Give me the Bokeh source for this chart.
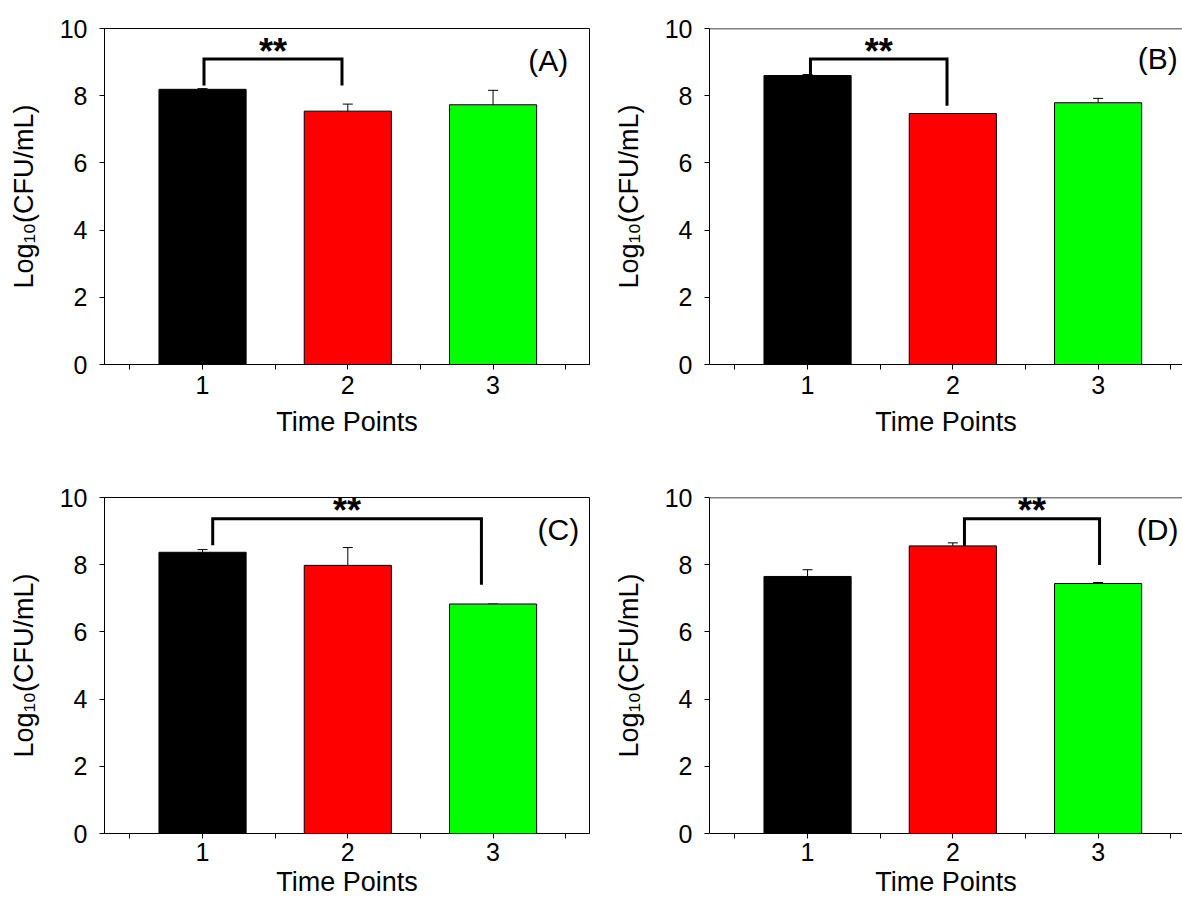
from bokeh.plotting import figure
from bokeh.layouts import column, row
from bokeh.models import (ColumnDataSource, FixedTicker, Range1d, Whisker, TeeHead,
                          Span, Label)
from bokeh.core.properties import value
from bokeh.embed import file_html
from bokeh.resources import INLINE

# ---------------- data ----------------
time_points = [1, 2, 3]
x_tick_labels = ["1", "2", "3"]
y_ticks = [0, 2, 4, 6, 8, 10]
bar_colors = ["#000000", "#FF0000", "#00FF00"]
panel_tags = ["(A)", "(B)", "(C)", "(D)"]
y_label = "Log\u2081\u2080(CFU/mL)"
x_label = "Time Points"

mean_A = [8.19, 7.54, 7.73]
err_A = [0.02, 0.21, 0.43]
mean_B = [8.60, 7.47, 7.79]
err_B = [0.03, 0.00, 0.13]
mean_C = [8.37, 7.98, 6.83]
err_C = [0.08, 0.53, 0.00]
mean_D = [7.65, 8.56, 7.44]
err_D = [0.20, 0.09, 0.03]

# significance brackets: x_left, x_right, y_top, y_left_end, y_right_end
sig_A = [1.01, 1.96, 9.09, 8.30, 8.30]
sig_B = [1.02, 1.96, 9.09, 8.62, 7.70]
sig_C = [1.07, 2.92, 9.37, 8.58, 7.40]
sig_D = [2.08, 3.01, 9.37, 8.56, 7.99]
sig_text = "**"

FONT = "Liberation Sans"


def make_panel(means, errs, tag, sig, right, bottom, tag_pos):
    width = 573 if right else 609
    height = 422 if bottom else 477
    x_end = 3.581 if right else 3.664
    p = figure(width=width, height=height,
               x_range=Range1d(0.325, x_end), y_range=Range1d(0, 10),
               output_backend="svg", toolbar_location=None, tools="",
               min_border_left=100 if right else 104,
               min_border_right=0 if right else 20,
               min_border_top=20 if bottom else 28,
               min_border_bottom=10 if bottom else 113,
               background_fill_color="white", border_fill_color="white")
    p.xgrid.visible = False
    p.ygrid.visible = False
    if right:
        p.outline_line_color = None
        p.add_layout(Span(location=10, dimension="width", line_color="black", line_width=1.5))
    else:
        p.outline_line_color = "black"
        p.outline_line_width = 1

    src = ColumnDataSource(dict(
        x=time_points,
        top=means,
        upper=[m + e for m, e in zip(means, errs)],
        color=bar_colors,
    ))
    p.vbar(x="x", top="top", bottom=0, width=0.6, source=src,
           fill_color="color", line_color="black", line_width=1)
    p.add_layout(Whisker(base="x", lower="top", upper="upper", source=src,
                         dimension="height", line_color="black", line_width=1,
                         upper_head=TeeHead(size=10, line_color="black", line_width=1),
                         lower_head=None))

    xl, xr, yt, yl, yr = sig
    p.line(x=[xl, xl, xr, xr], y=[yl, yt, yt, yr], line_color="black",
           line_width=3, line_join="miter", line_cap="butt")
    p.add_layout(Label(x=(xl + xr) / 2, y=yt, text=sig_text, text_align="center",
                       text_baseline="alphabetic", y_offset=8,
                       text_font=FONT, text_font_size="36px", text_font_style="bold",
                       text_color="black"))

    p.text(x=[tag_pos[0]], y=[tag_pos[1]], text=[tag], text_font=value(FONT),
           text_font_size="30px", text_align="center", text_baseline="middle",
           text_color="black")

    # axes
    xa = p.xaxis[0]
    xa.ticker = FixedTicker(ticks=time_points, minor_ticks=[0.5, 1.5, 2.5, 3.5])
    xa.major_label_overrides = {t: l for t, l in zip(time_points, x_tick_labels)}
    xa.axis_label = x_label
    ya = p.yaxis[0]
    ya.ticker = FixedTicker(ticks=y_ticks)
    ya.axis_label = y_label
    for ax in (xa, ya):
        ax.axis_line_color = "black"
        ax.axis_line_width = 1
        ax.major_tick_line_color = "black"
        ax.minor_tick_line_color = "black"
        ax.major_tick_in = 0
        ax.major_tick_out = 5
        ax.minor_tick_in = 0
        ax.minor_tick_out = 5
        ax.major_label_text_font = FONT
        ax.major_label_text_font_size = "25px"
        ax.major_label_text_color = "black"
        ax.axis_label_text_font = FONT
        ax.axis_label_text_font_size = "27px"
        ax.axis_label_text_font_style = "normal"
        ax.axis_label_text_color = "black"
    ya.minor_tick_line_color = None
    ya.major_label_standoff = 12
    ya.axis_label_standoff = 18
    xa.major_label_standoff = 4 if bottom else 6
    xa.axis_label_standoff = 3 if bottom else 10
    return p


pA = make_panel(mean_A, err_A, panel_tags[0], sig_A, False, False, (3.38, 9.04))
pB = make_panel(mean_B, err_B, panel_tags[1], sig_B, True, False, (3.41, 9.12))
pC = make_panel(mean_C, err_C, panel_tags[2], sig_C, False, True, (3.45, 9.04))
pD = make_panel(mean_D, err_D, panel_tags[3], sig_D, True, True, (3.41, 9.04))

layout = column(row(pA, pB), row(pC, pD))

with open("out.html", "w") as f:
    f.write(file_html(layout, INLINE))
